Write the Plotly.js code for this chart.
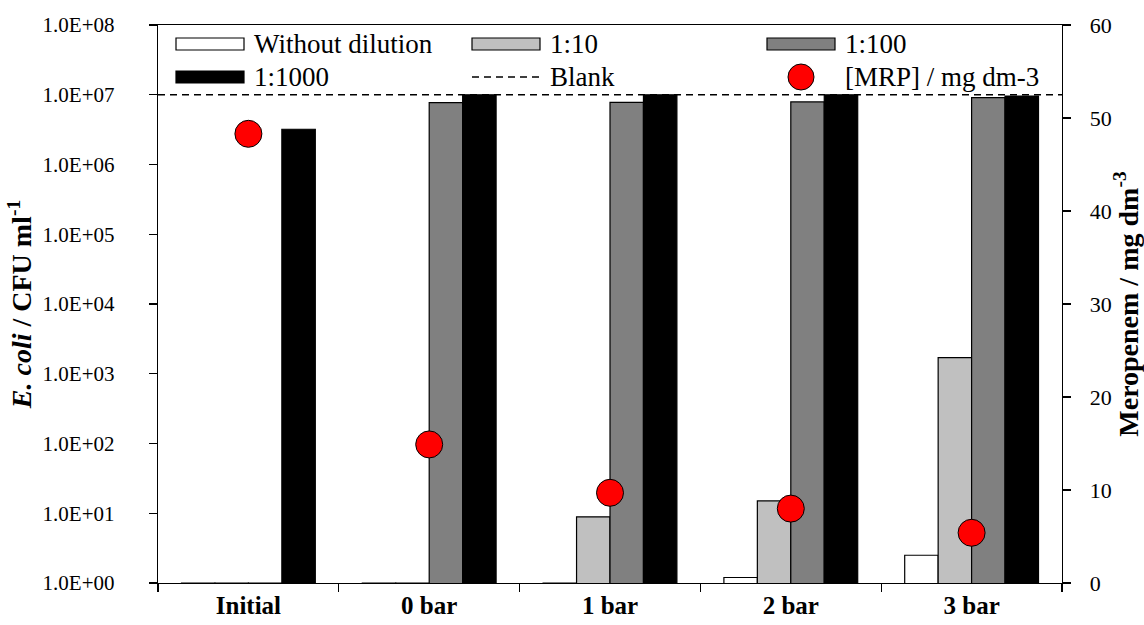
<!DOCTYPE html>
<html>
<head>
<meta charset="utf-8">
<script src="https://cdn.plot.ly/plotly-3.0.1.min.js"></script>
<style>
  html, body { margin: 0; padding: 0; background: #ffffff; }
  #chart { width: 1144px; height: 625px; }
</style>
</head>
<body>
<div id="chart"></div>
<script>
// ---- Data ----
const categories = ['Initial', '0 bar', '1 bar', '2 bar', '3 bar'];
const withoutDilution = [1, 1, 1, 1.2, 2.5];
const dilution10 = [1, 1, 8.9, 15, 1700];
const dilution100 = [1, 7.7e6, 7.8e6, 7.9e6, 9.1e6];
const dilution1000 = [3.2e6, 1.0e7, 1.0e7, 1.0e7, 9.6e6];
const blankLevel = [1.0e7, 1.0e7];
const blankX = [0, 1];
const mrpConcentration = [48.3, 14.9, 9.7, 8.0, 5.4];

const seriesNames = ['Without dilution', '1:10', '1:100', '1:1000', 'Blank', '[MRP] / mg dm-3'];
const yTickValues = [1, 10, 100, 1e3, 1e4, 1e5, 1e6, 1e7, 1e8];
const yTickLabels = ['1.0E+00', '1.0E+01', '1.0E+02', '1.0E+03', '1.0E+04', '1.0E+05', '1.0E+06', '1.0E+07', '1.0E+08'];

// ---- Styles ----
const FONT = 'Liberation Serif';
const barColors = ['#ffffff', '#c0c0c0', '#808080', '#000000'];
const dotColor = '#ff0000';

const barSeries = [withoutDilution, dilution10, dilution100, dilution1000];
const traces = barSeries.map((vals, i) => ({
  type: 'bar',
  name: seriesNames[i],
  x: categories,
  y: vals,
  marker: { color: barColors[i], line: { color: '#000000', width: 1.2 } },
  showlegend: false,
  hoverinfo: 'x+y'
}));

traces.push({
  type: 'scatter',
  mode: 'lines',
  name: seriesNames[4],
  x: blankX,
  y: blankLevel,
  xaxis: 'x3',
  yaxis: 'y',
  line: { color: '#000000', width: 1.5, dash: '7px,5px' },
  showlegend: false
});

traces.push({
  type: 'scatter',
  mode: 'markers',
  name: seriesNames[5],
  x: categories,
  y: mrpConcentration,
  yaxis: 'y2',
  marker: { color: dotColor, size: 27, line: { color: '#000000', width: 1 } },
  showlegend: false
});

// ---- Custom legend (layout helpers) ----
const PL = 158, PR = 1062, PT = 25, PB = 583;
const px = x => (x - PL) / (PR - PL);
const py = y => (PB - y) / (PB - PT);
const legendCols = [176, 472, 767];
const legendRows = [44, 77];
const symW = 68, symH = 12;

const shapes = [];
const annotations = [];
seriesNames.forEach((name, i) => {
  const x0 = legendCols[i % 3];
  const yc = legendRows[Math.floor(i / 3)];
  if (i < 4) {
    shapes.push({
      type: 'rect', xref: 'paper', yref: 'paper',
      x0: px(x0), x1: px(x0 + symW), y0: py(yc + symH / 2), y1: py(yc - symH / 2),
      fillcolor: barColors[i], line: { color: '#000000', width: 1.2 }
    });
  } else if (i === 4) {
    shapes.push({
      type: 'line', xref: 'paper', yref: 'paper',
      x0: px(x0), x1: px(x0 + symW), y0: py(yc), y1: py(yc),
      line: { color: '#000000', width: 1.5, dash: '7px,5px' }
    });
  } else {
    const cx = x0 + symW / 2, r = 13;
    shapes.push({
      type: 'circle', xref: 'paper', yref: 'paper',
      x0: px(cx - r), x1: px(cx + r), y0: py(yc + r), y1: py(yc - r),
      fillcolor: dotColor, line: { color: '#000000', width: 1 }
    });
  }
  annotations.push({
    xref: 'paper', yref: 'paper', x: px(x0 + symW + 8), y: py(yc),
    xanchor: 'left', yanchor: 'middle', showarrow: false,
    text: name, font: { family: FONT, size: 27, color: '#000000' }
  });
});

const layout = {
  width: 1144,
  height: 625,
  margin: { l: PL, r: 1144 - PR, t: PT, b: 625 - PB, pad: 0 },
  paper_bgcolor: '#ffffff',
  plot_bgcolor: '#ffffff',
  barmode: 'group',
  bargap: 0.26,
  bargroupgap: 0,
  showlegend: false,
  font: { family: FONT, color: '#000000' },
  xaxis: {
    type: 'category',
    tickson: 'boundaries',
    ticks: 'outside', ticklen: 8, tickwidth: 1.3, tickcolor: '#000000',
    showline: true, linecolor: '#000000', linewidth: 1.3, mirror: true,
    showgrid: false, zeroline: false,
    tickfont: { family: FONT, size: 25, weight: 'bold', color: '#000000' }
  },
  xaxis3: {
    overlaying: 'x', anchor: 'y', range: [0, 1], visible: false, fixedrange: true
  },
  yaxis: {
    type: 'log', range: [0, 8],
    tickvals: yTickValues, ticktext: yTickLabels,
    ticks: 'outside', ticklen: 8, tickwidth: 1.3, tickcolor: '#000000',
    showline: true, linecolor: '#000000', linewidth: 1.3,
    showgrid: false, zeroline: false,
    tickfont: { family: FONT, size: 21, color: '#000000' },
    ticklabelstandoff: 30,
    title: {
      text: '<b><i>E. coli</i> / CFU ml<sup>-1</sup></b>',
      font: { family: FONT, size: 28, color: '#000000' },
      standoff: 2
    }
  },
  yaxis2: {
    overlaying: 'y', side: 'right', range: [0, 60], dtick: 10,
    ticks: 'outside', ticklen: 8, tickwidth: 1.3, tickcolor: '#000000',
    showline: true, linecolor: '#000000', linewidth: 1.3,
    showgrid: false, zeroline: false,
    tickfont: { family: FONT, size: 22, color: '#000000' },
    ticklabelstandoff: 14,
    title: {
      text: '<b>Meropenem / mg dm<sup>-3</sup></b>',
      font: { family: FONT, size: 28, color: '#000000' },
      standoff: 4
    }
  },
  shapes: shapes,
  annotations: annotations
};

Plotly.newPlot('chart', traces, layout, { staticPlot: true, displayModeBar: false });
</script>
</body>
</html>
